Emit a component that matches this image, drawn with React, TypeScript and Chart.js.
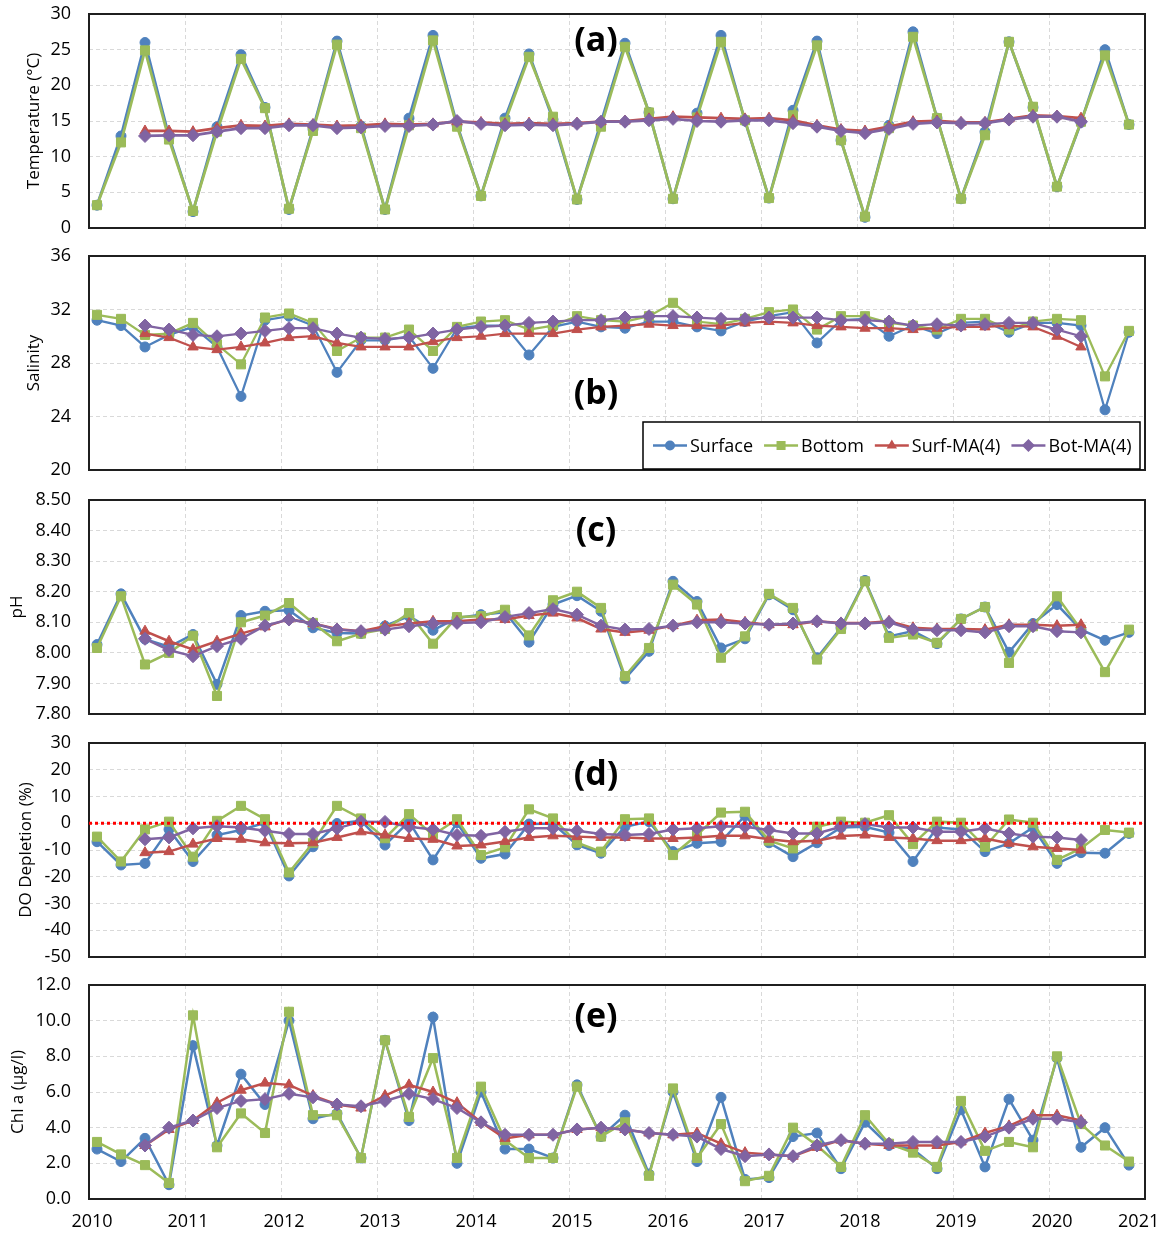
import React, { useEffect, useRef } from "react";
import { Chart, registerables } from "chart.js";

Chart.register(...registerables);

// ---------------- DATA ----------------
const sampleDates = [
  "2010-02", "2010-05", "2010-08", "2010-11",
  "2011-02", "2011-05", "2011-08", "2011-11",
  "2012-02", "2012-05", "2012-08", "2012-11",
  "2013-02", "2013-05", "2013-08", "2013-11",
  "2014-02", "2014-05", "2014-08", "2014-11",
  "2015-02", "2015-05", "2015-08", "2015-11",
  "2016-02", "2016-05", "2016-08", "2016-11",
  "2017-02", "2017-05", "2017-08", "2017-11",
  "2018-02", "2018-05", "2018-08", "2018-11",
  "2019-02", "2019-05", "2019-08", "2019-11",
  "2020-02", "2020-05", "2020-08", "2020-11",
];

const yearTicks = [2010, 2011, 2012, 2013, 2014, 2015, 2016, 2017, 2018, 2019, 2020, 2021];
const seriesNames = ["Surface", "Bottom", "Surf-MA(4)", "Bot-MA(4)"];
const panelTags = ["(a)", "(b)", "(c)", "(d)", "(e)"];
const depletionReference = 0;

// (a) Temperature (°C)
const tempSurface = [3.2, 12.9, 26.0, 12.8, 2.3, 14.2, 24.3, 16.9, 2.6, 13.9, 26.2, 14.3, 2.6, 15.4, 27.0, 14.5, 4.5, 15.4, 24.4, 15.2, 4.0, 14.8, 25.9, 16.2, 4.1, 16.1, 27.0, 15.0, 4.2, 16.5, 26.2, 12.3, 1.5, 14.4, 27.5, 15.4, 4.1, 13.5, 26.1, 16.9, 5.8, 14.8, 25.0, 14.5];
const tempBottom = [3.2, 12.0, 24.9, 12.4, 2.4, 13.5, 23.7, 16.8, 2.7, 13.6, 25.7, 14.0, 2.6, 14.4, 26.3, 14.2, 4.5, 14.9, 24.0, 15.6, 4.0, 14.2, 25.4, 16.2, 4.1, 15.5, 26.1, 15.1, 4.2, 15.8, 25.6, 12.3, 1.6, 14.0, 26.8, 15.4, 4.1, 13.0, 26.1, 17.0, 5.8, 14.9, 24.2, 14.5];
const tempSurfMA = [null, null, 13.6, 13.6, 13.5, 14.0, 14.4, 14.3, 14.6, 14.5, 14.3, 14.4, 14.6, 14.5, 14.6, 14.9, 14.8, 14.6, 14.7, 14.6, 14.7, 14.9, 15.0, 15.3, 15.6, 15.5, 15.4, 15.3, 15.4, 15.1, 14.4, 13.8, 13.6, 14.2, 14.9, 15.0, 14.8, 14.8, 15.3, 15.8, 15.7, 15.4, null, null];
const tempBotMA = [null, null, 12.9, 13.0, 13.0, 13.5, 14.0, 14.0, 14.4, 14.4, 14.0, 14.1, 14.3, 14.3, 14.5, 15.0, 14.6, 14.4, 14.5, 14.4, 14.6, 14.9, 14.9, 15.1, 15.3, 15.0, 14.9, 15.1, 15.1, 14.7, 14.2, 13.6, 13.3, 13.9, 14.6, 14.8, 14.7, 14.7, 15.2, 15.6, 15.6, 14.9, null, null];

// (b) Salinity
const salSurface = [31.2, 30.8, 29.2, 30.1, 30.7, 29.2, 25.5, 31.2, 31.5, 30.8, 27.3, 29.7, 29.7, 30.0, 27.6, 30.6, 30.8, 30.8, 28.6, 30.7, 31.1, 30.7, 30.6, 31.1, 31.1, 30.7, 30.4, 31.1, 31.5, 31.8, 29.5, 31.2, 31.3, 30.0, 30.8, 30.2, 31.0, 31.1, 30.3, 31.0, 31.0, 30.8, 24.5, 30.3];
const salBottom = [31.6, 31.3, 30.1, 30.2, 31.0, 29.4, 27.9, 31.4, 31.7, 31.0, 28.9, 29.9, 29.9, 30.5, 28.9, 30.7, 31.1, 31.2, 30.5, 30.8, 31.5, 31.2, 31.1, 31.5, 32.5, 31.1, 30.9, 31.3, 31.8, 32.0, 30.5, 31.5, 31.5, 31.0, 30.8, 30.5, 31.3, 31.3, 30.5, 31.1, 31.3, 31.2, 27.0, 30.4];
const salSurfMA = [null, null, 30.2, 29.9, 29.2, 29.0, 29.2, 29.5, 29.9, 30.0, 29.5, 29.2, 29.2, 29.2, 29.6, 29.9, 30.0, 30.2, 30.2, 30.2, 30.5, 30.7, 30.8, 30.9, 30.8, 30.8, 30.8, 31.0, 31.1, 31.0, 30.8, 30.7, 30.6, 30.6, 30.5, 30.6, 30.7, 30.7, 30.8, 30.7, 30.0, 29.2, null, null];
const salBotMA = [null, null, 30.8, 30.5, 30.1, 30.0, 30.2, 30.4, 30.6, 30.6, 30.2, 29.9, 29.8, 29.9, 30.2, 30.5, 30.7, 30.8, 31.0, 31.1, 31.2, 31.2, 31.4, 31.5, 31.5, 31.4, 31.3, 31.3, 31.4, 31.4, 31.4, 31.2, 31.2, 31.1, 30.8, 30.9, 30.8, 30.9, 31.0, 31.0, 30.5, 30.0, null, null];

// (c) pH
const phSurface = [8.027, 8.193, 8.045, 8.02, 8.06, 7.897, 8.122, 8.136, 8.139, 8.082, 8.065, 8.063, 8.088, 8.12, 8.074, 8.114, 8.125, 8.133, 8.035, 8.158, 8.187, 8.136, 7.915, 8.005, 8.234, 8.168, 8.016, 8.046, 8.19, 8.141, 7.984, 8.082, 8.237, 8.054, 8.071, 8.03, 8.111, 8.15, 8.002, 8.096, 8.158, 8.076, 8.041, 8.067];
const phBottom = [8.016, 8.185, 7.962, 8.0, 8.056, 7.859, 8.1, 8.122, 8.163, 8.098, 8.038, 8.063, 8.078, 8.13, 8.03, 8.117, 8.12, 8.141, 8.057, 8.172, 8.2, 8.147, 7.924, 8.016, 8.223, 8.158, 7.984, 8.054, 8.193, 8.147, 7.978, 8.078, 8.234, 8.049, 8.06, 8.033, 8.111, 8.15, 7.967, 8.087, 8.185, 8.076, 7.937, 8.076];
const phSurfMA = [null, null, 8.071, 8.038, 8.011, 8.038, 8.063, 8.085, 8.111, 8.096, 8.078, 8.071, 8.087, 8.096, 8.103, 8.103, 8.109, 8.109, 8.122, 8.13, 8.114, 8.078, 8.067, 8.074, 8.089, 8.107, 8.109, 8.1, 8.092, 8.092, 8.103, 8.098, 8.098, 8.103, 8.082, 8.078, 8.078, 8.076, 8.092, 8.092, 8.089, 8.092, null, null];
const phBotMA = [null, null, 8.046, 8.009, 7.989, 8.022, 8.046, 8.089, 8.109, 8.096, 8.076, 8.071, 8.076, 8.087, 8.096, 8.098, 8.1, 8.117, 8.13, 8.143, 8.125, 8.089, 8.076, 8.078, 8.089, 8.1, 8.1, 8.096, 8.092, 8.096, 8.103, 8.096, 8.096, 8.1, 8.076, 8.074, 8.074, 8.067, 8.087, 8.087, 8.071, 8.067, null, null];

// (d) DO Depletion (%)
const doSurface = [-6.9, -15.6, -15.0, -2.3, -14.3, -4.4, -2.5, 0.2, -19.7, -8.8, -0.1, 0.9, -8.1, 0.6, -13.7, 0.2, -13.1, -11.5, -0.3, -0.1, -8.1, -11.2, -1.3, 0.6, -10.6, -7.5, -6.9, 2.8, -7.3, -12.5, -7.3, -1.6, -1.3, -3.5, -14.3, -1.6, -2.3, -10.6, -7.5, -1.6, -15.0, -11.0, -11.2, -3.8];
const doBottom = [-5.0, -14.3, -2.3, 0.6, -12.5, 0.9, 6.5, 1.5, -18.4, -7.3, 6.5, 1.8, -5.6, 3.4, -4.4, 1.5, -11.9, -9.0, 5.2, 1.8, -7.3, -10.6, 1.5, 1.8, -11.9, -4.4, 4.0, 4.3, -6.5, -9.4, -1.3, 0.6, 0.2, 3.0, -7.8, 0.6, 0.2, -8.8, 1.4, 0.2, -13.7, -9.4, -2.5, -3.5];
const doSurfMA = [null, null, -11.0, -10.6, -7.8, -5.7, -6.0, -7.3, -7.5, -7.3, -5.3, -3.2, -4.4, -5.7, -6.0, -8.5, -8.1, -6.8, -5.3, -4.7, -5.0, -5.3, -5.3, -5.7, -5.7, -5.3, -4.7, -4.7, -6.0, -6.9, -6.5, -4.8, -4.4, -5.3, -5.7, -6.5, -6.5, -5.7, -7.5, -8.8, -9.4, -10.0, null, null];
const doBotMA = [null, null, -6.0, -5.3, -1.9, -1.1, -1.6, -2.8, -4.0, -4.0, -1.9, 0.6, 0.5, -1.3, -2.3, -4.4, -4.7, -3.2, -1.9, -1.9, -2.8, -4.0, -4.4, -4.0, -2.3, -1.9, -1.1, -1.3, -2.5, -3.8, -3.8, -1.3, -0.3, -1.6, -1.6, -3.2, -3.2, -1.9, -3.8, -5.0, -5.3, -6.3, null, null];

// (e) Chl a (µg/l)
const chlSurface = [2.8, 2.1, 3.4, 0.8, 8.6, 3.0, 7.0, 5.3, 10.0, 4.5, 4.8, 2.3, 8.9, 4.4, 10.2, 2.0, 6.0, 2.8, 2.8, 2.3, 6.4, 3.5, 4.7, 1.4, 6.0, 2.1, 5.7, 1.1, 1.2, 3.5, 3.7, 1.7, 4.3, 3.0, 2.8, 1.7, 5.0, 1.8, 5.6, 3.3, 7.9, 2.9, 4.0, 1.9];
const chlBottom = [3.2, 2.5, 1.9, 0.9, 10.3, 2.9, 4.8, 3.7, 10.5, 4.7, 4.7, 2.3, 8.9, 4.6, 7.9, 2.3, 6.3, 3.3, 2.3, 2.3, 6.3, 3.5, 4.3, 1.3, 6.2, 2.3, 4.2, 1.0, 1.3, 4.0, 3.0, 1.8, 4.7, 3.1, 2.6, 1.8, 5.5, 2.7, 3.2, 2.9, 8.0, 4.2, 3.0, 2.1];
const chlSurfMA = [null, null, 3.0, 3.9, 4.4, 5.4, 6.1, 6.5, 6.4, 5.8, 5.3, 5.1, 5.8, 6.4, 6.0, 5.4, 4.3, 3.4, 3.6, 3.6, 3.9, 4.0, 3.9, 3.7, 3.6, 3.7, 3.1, 2.6, 2.5, 2.4, 2.9, 3.3, 3.1, 3.0, 3.0, 3.0, 3.2, 3.7, 4.1, 4.7, 4.7, 4.4, null, null];
const chlBotMA = [null, null, 3.0, 4.0, 4.4, 5.1, 5.5, 5.6, 5.9, 5.7, 5.3, 5.2, 5.5, 5.9, 5.6, 5.1, 4.3, 3.6, 3.6, 3.6, 3.9, 4.0, 3.9, 3.7, 3.6, 3.5, 2.8, 2.4, 2.5, 2.4, 3.0, 3.3, 3.1, 3.1, 3.2, 3.2, 3.2, 3.5, 4.0, 4.5, 4.5, 4.3, null, null];

// ---------------- STYLE ----------------
const BLUE = "#4F81BD";
const GREEN = "#9BBB59";
const RED = "#C0504D";
const PURPLE = "#8064A2";
const GRID = "#D9D9D9";
const FONT = '"Open Sans", "Liberation Sans", sans-serif';
const W = 1163;
const PLOT_LEFT = 89;
const PLOT_RIGHT = 1145;
const PLOT_H = 214;

const toYear = (s: string) => {
  const [y, m] = s.split("-").map(Number);
  return y + (m - 1) / 12;
};
const xs = sampleDates.map(toYear);
const pts = (vals: (number | null)[]) => vals.map((v, i) => ({ x: xs[i], y: v }));

type PanelDef = {
  canvasTop: number;
  canvasHeight: number;
  yMin: number;
  yMax: number;
  yStep: number;
  decimals: number;
  yTitle: string;
  titlePad: number;
  tag: string;
  tagY: number;
  series: (number | null)[][];
  lineWidth: number;
  showX?: boolean;
  legend?: boolean;
  zero?: boolean;
};

const panels: PanelDef[] = [
  { canvasTop: 0, canvasHeight: 243, yMin: 0, yMax: 30, yStep: 5, decimals: 0, yTitle: "Temperature (°C)", titlePad: 24, tag: panelTags[0], tagY: 41, series: [tempSurface, tempBottom, tempSurfMA, tempBotMA], lineWidth: 2.75 },
  { canvasTop: 242, canvasHeight: 243, yMin: 20, yMax: 36, yStep: 4, decimals: 0, yTitle: "Salinity", titlePad: 24, tag: panelTags[1], tagY: 394, series: [salSurface, salBottom, salSurfMA, salBotMA], lineWidth: 2.25, legend: true },
  { canvasTop: 486, canvasHeight: 243, yMin: 7.8, yMax: 8.5, yStep: 0.1, decimals: 2, yTitle: "pH", titlePad: 7, tag: panelTags[2], tagY: 531, series: [phSurface, phBottom, phSurfMA, phBotMA], lineWidth: 2.5 },
  { canvasTop: 729, canvasHeight: 243, yMin: -50, yMax: 30, yStep: 10, decimals: 0, yTitle: "DO Depletion (%)", titlePad: 16, tag: panelTags[3], tagY: 775, series: [doSurface, doBottom, doSurfMA, doBotMA], lineWidth: 2.5, zero: true },
  { canvasTop: 971, canvasHeight: 265, yMin: 0, yMax: 12, yStep: 2, decimals: 1, yTitle: "Chl a (µg/l)", titlePad: 8, tag: panelTags[4], tagY: 1017, series: [chlSurface, chlBottom, chlSurfMA, chlBotMA], lineWidth: 2.5, showX: true },
];

const seriesStyle = [
  { color: BLUE, pointStyle: "circle", radius: 5 },
  { color: GREEN, pointStyle: "rect", radius: 6.4 },
  { color: RED, pointStyle: "triangle", radius: 6 },
  { color: PURPLE, pointStyle: "rectRot", radius: 6.5 },
];

function drawMarker(ctx: CanvasRenderingContext2D, style: string, r: number, x: number, y: number, color: string) {
  ctx.save();
  ctx.fillStyle = color;
  ctx.beginPath();
  if (style === "circle") {
    ctx.arc(x, y, r, 0, Math.PI * 2);
  } else if (style === "rect") {
    const s = r * Math.SQRT1_2;
    ctx.rect(x - s, y - s, 2 * s, 2 * s);
  } else if (style === "triangle") {
    ctx.moveTo(x, y - r);
    ctx.lineTo(x + r * Math.sin(Math.PI / 3), y + r / 2);
    ctx.lineTo(x - r * Math.sin(Math.PI / 3), y + r / 2);
    ctx.closePath();
  } else {
    ctx.moveTo(x, y - r);
    ctx.lineTo(x + r, y);
    ctx.lineTo(x, y + r);
    ctx.lineTo(x - r, y);
    ctx.closePath();
  }
  ctx.fill();
  ctx.restore();
}

function Panel({ def }: { def: PanelDef }) {
  const ref = useRef<HTMLCanvasElement>(null);

  useEffect(() => {
    const canvas = ref.current;
    if (!canvas) return;
    const topPad = 14;
    const xAxisH = def.canvasHeight - topPad - PLOT_H;

    const datasets: any[] = [];
    // reverse order so that later series are drawn on top
    for (let k = 3; k >= 0; k--) {
      const st = seriesStyle[k];
      datasets.push({
        label: seriesNames[k],
        data: pts(def.series[k]),
        borderColor: st.color,
        backgroundColor: st.color,
        pointBackgroundColor: st.color,
        pointBorderColor: st.color,
        pointBorderWidth: 1,
        pointStyle: st.pointStyle,
        pointRadius: st.radius,
        borderWidth: def.lineWidth,
        tension: 0,
        spanGaps: false,
      });
    }
    if (def.zero) {
      datasets.unshift({
        label: "zero",
        data: [
          { x: yearTicks[0], y: depletionReference },
          { x: yearTicks[yearTicks.length - 1], y: depletionReference },
        ],
        borderColor: "#FF0000",
        borderWidth: 3,
        borderDash: [3, 3],
        pointRadius: 0,
        tension: 0,
      });
    }

    const framePlugin = {
      id: "frame",
      beforeDatasetsDraw(chart: any) {
        const { ctx, chartArea: a } = chart;
        ctx.save();
        ctx.strokeStyle = "#1F1F1F";
        ctx.lineWidth = 2;
        ctx.strokeRect(a.left, a.top, a.right - a.left, a.bottom - a.top);
        ctx.restore();
      },
    };

    const tagPlugin = {
      id: "tag",
      afterDraw(chart: any) {
        const { ctx } = chart;
        ctx.save();
        ctx.font = `bold 34px ${FONT}`;
        ctx.fillStyle = "#000";
        ctx.textAlign = "center";
        ctx.textBaseline = "middle";
        ctx.fillText(def.tag, 596, def.tagY - def.canvasTop);
        ctx.restore();
      },
    };

    const legendPlugin = {
      id: "customLegend",
      afterDraw(chart: any) {
        if (!def.legend) return;
        const { ctx } = chart;
        const bx = 643, by = 422 - def.canvasTop, bw = 497, bh = 47;
        ctx.save();
        ctx.fillStyle = "#fff";
        ctx.fillRect(bx, by, bw, bh);
        ctx.strokeStyle = "#000";
        ctx.lineWidth = 1.5;
        ctx.strokeRect(bx, by, bw, bh);
        ctx.font = `18px ${FONT}`;
        ctx.textBaseline = "middle";
        ctx.textAlign = "left";
        const cy = by + bh / 2;
        let x = bx + 10;
        for (let k = 0; k < 4; k++) {
          const ds = chart.data.datasets.find((d: any) => d.label === seriesNames[k]);
          ctx.strokeStyle = ds.borderColor;
          ctx.lineWidth = 2.5;
          ctx.beginPath();
          ctx.moveTo(x, cy);
          ctx.lineTo(x + 34, cy);
          ctx.stroke();
          drawMarker(ctx, ds.pointStyle, ds.pointRadius, x + 17, cy, ds.pointBackgroundColor);
          ctx.fillStyle = "#000";
          ctx.fillText(seriesNames[k], x + 37, cy + 1);
          x += 37 + ctx.measureText(seriesNames[k]).width + 11;
        }
        ctx.restore();
      },
    };

    const chart = new Chart(canvas, {
      type: "line",
      data: { datasets },
      options: {
        animation: false,
        responsive: false,
        devicePixelRatio: 1,
        layout: { padding: { top: topPad, left: 0, right: W - PLOT_RIGHT, bottom: 0 } },
        plugins: { legend: { display: false }, tooltip: { enabled: false }, title: { display: false } },
        scales: {
          x: {
            type: "linear",
            min: yearTicks[0],
            max: yearTicks[yearTicks.length - 1],
            afterBuildTicks: (s: any) => {
              s.ticks = yearTicks.map((v) => ({ value: v }));
            },
            ticks: {
              display: !!def.showX,
              stepSize: 1,
              autoSkip: false,
              maxRotation: 0,
              padding: 12,
              labelOffset: 3,
              color: "#000",
              font: { family: FONT, size: 18 },
              // the last year label is pulled inward so it stays inside the page
              callback: (v: any) => (Number(v) === yearTicks[yearTicks.length - 1] ? String(v) + "    " : String(v)),
            },
            grid: { color: GRID, lineWidth: 1, drawTicks: false },
            border: { display: false, dash: [4, 3] },
            afterFit: (s: any) => {
              s.height = xAxisH;
              s.paddingLeft = 0;
              s.paddingRight = 0;
            },
          },
          y: {
            type: "linear",
            min: def.yMin,
            max: def.yMax,
            ticks: {
              stepSize: def.yStep,
              padding: 18,
              color: "#000",
              font: { family: FONT, size: 18 },
              callback: (v: any) => Number(v).toFixed(def.decimals),
            },
            grid: { color: GRID, lineWidth: 1, drawTicks: false },
            border: { display: false, dash: [4, 3] },
            title: {
              display: true,
              text: def.yTitle,
              color: "#000",
              font: { family: FONT, size: 17 },
              padding: { top: def.titlePad, bottom: 0 },
            },
            afterFit: (s: any) => {
              s.width = PLOT_LEFT;
              s.paddingTop = 0;
              s.paddingBottom = 0;
            },
          },
        },
      } as any,
      plugins: [framePlugin, tagPlugin, legendPlugin],
    });

    return () => chart.destroy();
  }, []);

  return (
    <canvas
      ref={ref}
      width={W}
      height={def.canvasHeight}
      style={{ position: "absolute", left: 0, top: def.canvasTop, width: W, height: def.canvasHeight }}
    />
  );
}

export default function App() {
  return (
    <div style={{ position: "absolute", left: 0, top: 0, width: W, height: 1236, background: "#fff" }}>
      {panels.map((p, i) => (
        <Panel key={i} def={p} />
      ))}
    </div>
  );
}
